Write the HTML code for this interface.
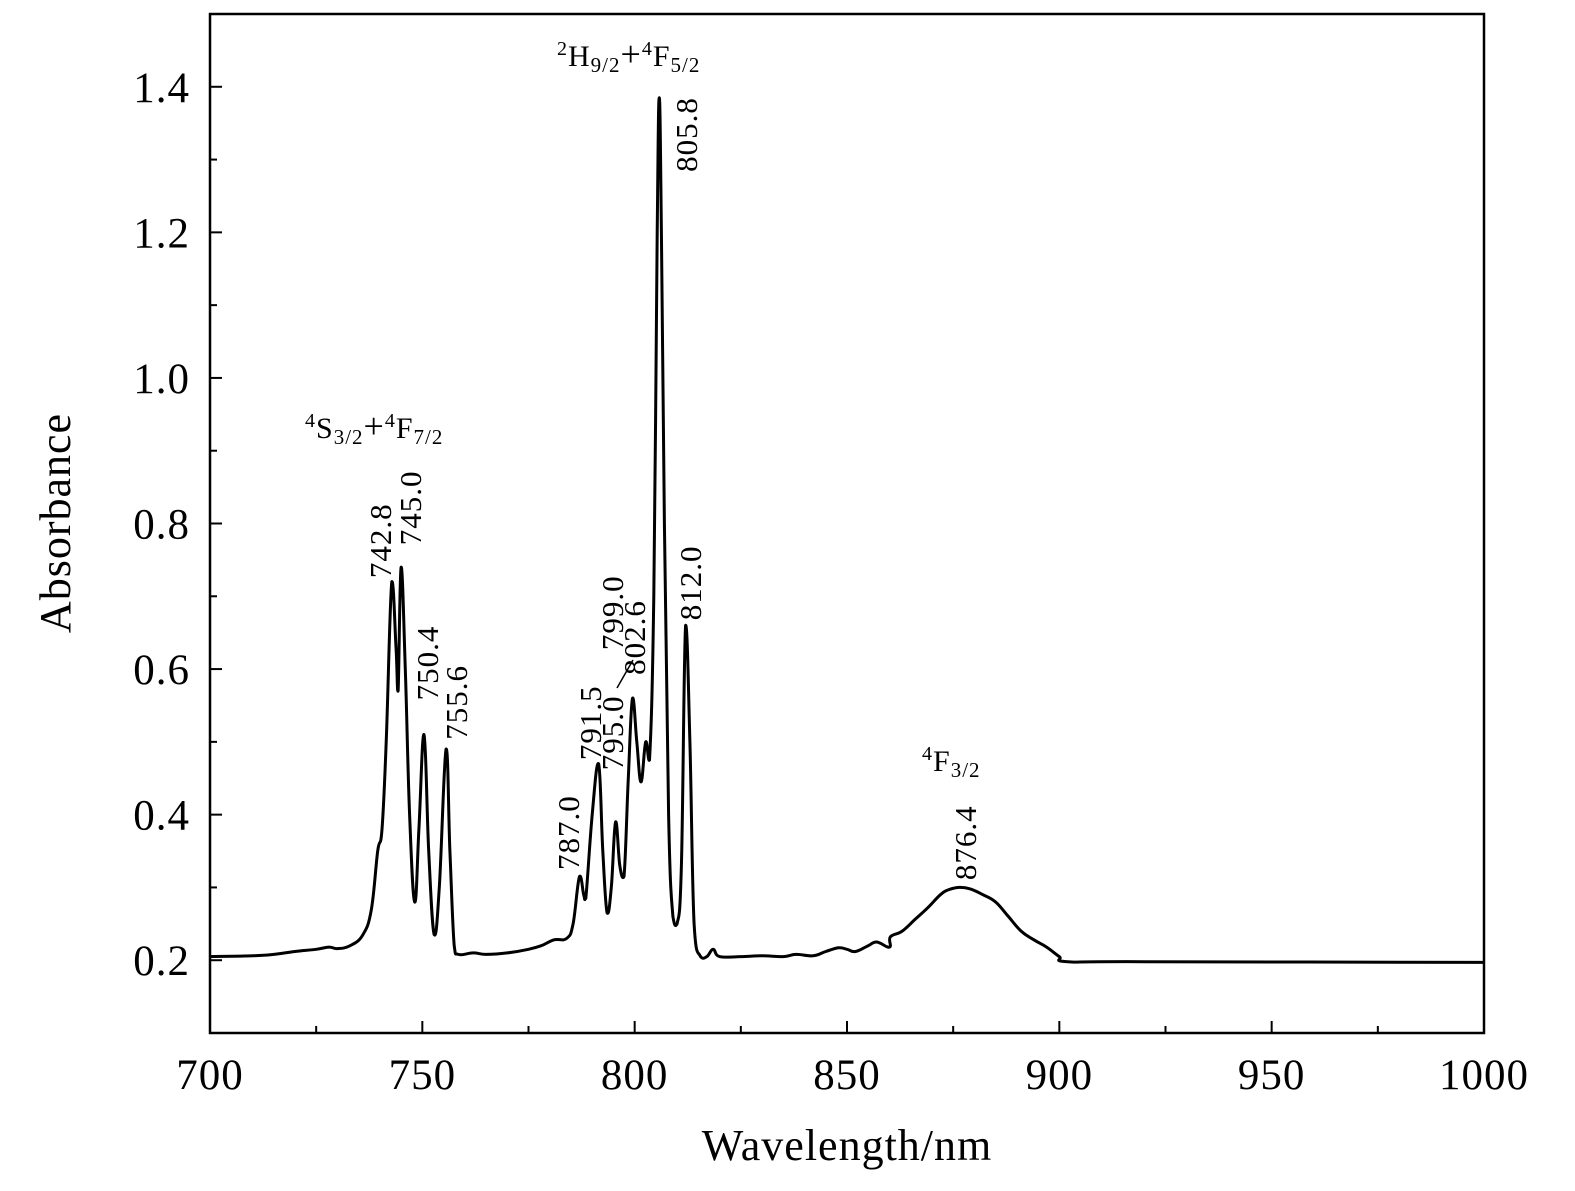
<!DOCTYPE html>
<html><head><meta charset="utf-8"><style>
html,body{margin:0;padding:0;background:#fff}
svg{display:block;font-family:"Liberation Serif",serif}
</style></head><body>
<svg id="chart" width="1575" height="1191" viewBox="0 0 1575 1191" xmlns="http://www.w3.org/2000/svg">
<rect x="0" y="0" width="1575" height="1191" fill="#fff"/>
<g id="ticks"></g>
<path id="spectrum" fill="none" stroke="#000" stroke-width="3" stroke-linejoin="round"/>
<rect x="210" y="14" width="1274" height="1019" fill="none" stroke="#000" stroke-width="2.5"/>
<g id="peaklabels" font-size="31"></g>
<line x1="617" y1="688" x2="633" y2="660" stroke="#000" stroke-width="1.5"/>
<text x="305" y="438" font-size="30" letter-spacing="1">
<tspan font-size="20" dy="-11">4</tspan><tspan dy="11">S</tspan><tspan font-size="21" dy="6">3/2</tspan><tspan dy="-6" font-size="36">+</tspan><tspan font-size="20" dy="-11">4</tspan><tspan dy="11">F</tspan><tspan font-size="21" dy="6">7/2</tspan></text>
<text x="557" y="66" font-size="30" letter-spacing="1">
<tspan font-size="20" dy="-11">2</tspan><tspan dy="11">H</tspan><tspan font-size="21" dy="6">9/2</tspan><tspan dy="-6" font-size="36">+</tspan><tspan font-size="20" dy="-11">4</tspan><tspan dy="11">F</tspan><tspan font-size="21" dy="6">5/2</tspan></text>
<text x="922" y="771" font-size="30" letter-spacing="1">
<tspan font-size="20" dy="-11">4</tspan><tspan dy="11">F</tspan><tspan font-size="21" dy="6">3/2</tspan></text>
<text x="847" y="1160" font-size="44" letter-spacing="1" text-anchor="middle">Wavelength/nm</text>
<text transform="translate(70,523) rotate(-90)" font-size="44" letter-spacing="1" text-anchor="middle">Absorbance</text>
</svg>
<script>
const wavelengths=[700,710,715,720,725,728,730,733,736,738,739.5,740.5,741.5,742.8,743.8,744.3,745.0,746,747,748.2,749.2,750.4,751.5,752.8,754,755.6,756.5,757.5,758.5,762,765,770,775,778,781,784,785.5,787,788,788.5,790,791.5,792.5,793.5,794.5,795.5,796.5,797.5,798.5,799.5,800.5,801.5,802.6,803.5,804.5,805.3,805.8,806.3,807,808,809,810,811,812.0,813,814,815.5,817,818.5,820,825,830,835,838,842,845,848,850,852,855,857,860,860.2,863,866,869,872,874,876.4,879,882,885,888,891,894,897,900,902,920,1000];
const absorbance=[0.205,0.206,0.208,0.212,0.215,0.218,0.216,0.22,0.235,0.27,0.35,0.38,0.5,0.72,0.63,0.57,0.74,0.6,0.4,0.28,0.38,0.51,0.35,0.235,0.3,0.49,0.35,0.22,0.208,0.21,0.208,0.21,0.215,0.22,0.228,0.23,0.25,0.315,0.29,0.285,0.4,0.47,0.35,0.265,0.3,0.39,0.33,0.315,0.45,0.56,0.5,0.445,0.5,0.475,0.7,1.2,1.385,1.2,0.8,0.4,0.26,0.25,0.33,0.66,0.5,0.25,0.205,0.205,0.215,0.205,0.205,0.206,0.205,0.208,0.206,0.212,0.217,0.215,0.212,0.22,0.225,0.218,0.232,0.24,0.256,0.272,0.29,0.297,0.3,0.298,0.29,0.28,0.26,0.24,0.228,0.218,0.205,0.198,0.198,0.197];
const xTickLabels=["700","750","800","850","900","950","1000"];
const yTickLabels=["0.2","0.4","0.6","0.8","1.0","1.2","1.4"];
const peakLabels=["742.8","745.0","750.4","755.6","787.0","791.5","795.0","799.0","802.6","805.8","812.0","876.4"];
const peakLabelX=[742.6,749.7,753.7,760.5,786.9,792.1,797.3,797.3,802.4,814.7,815.6,880.4];
const peakLabelY=[0.725,0.77,0.557,0.503,0.324,0.475,0.461,0.626,0.592,1.283,0.667,0.31];

const X=v=>210+(v-700)*1274/300;
const Y=v=>1033-(v-0.1)*1019/1.4;
const NS="http://www.w3.org/2000/svg";
const pts=wavelengths.map((w,i)=>[X(w),Y(absorbance[i])]);
let d="M"+pts[0][0].toFixed(1)+","+pts[0][1].toFixed(1);
for(let i=0;i<pts.length-1;i++){
  const p0=pts[Math.max(i-1,0)],p1=pts[i],p2=pts[i+1],p3=pts[Math.min(i+2,pts.length-1)];
  const t=0.2;
  let c1y=p1[1]+(p2[1]-p0[1])*t, c2y=p2[1]-(p3[1]-p1[1])*t;
  const lo=Math.min(p1[1],p2[1])-3, hi=Math.max(p1[1],p2[1])+3;
  c1y=Math.max(lo,Math.min(hi,c1y)); c2y=Math.max(lo,Math.min(hi,c2y));
  const c1x=p1[0]+(p2[0]-p0[0])*t, c2x=p2[0]-(p3[0]-p1[0])*t;
  d+="C"+c1x.toFixed(1)+","+c1y.toFixed(1)+" "+c2x.toFixed(1)+","+c2y.toFixed(1)+" "+p2[0].toFixed(1)+","+p2[1].toFixed(1);
}
document.getElementById("spectrum").setAttribute("d",d);

const tg=document.getElementById("ticks");
function line(x1,y1,x2,y2,name){const l=document.createElementNS(NS,"line");l.setAttribute("x1",x1);l.setAttribute("y1",y1);l.setAttribute("x2",x2);l.setAttribute("y2",y2);l.setAttribute("stroke","#000");l.setAttribute("stroke-width","2");


tg.appendChild(l);}
function txt(x,y,s,name,anchor){const t=document.createElementNS(NS,"text");t.setAttribute("x",x);t.setAttribute("y",y);t.setAttribute("font-size","43");t.setAttribute("letter-spacing","1");t.setAttribute("text-anchor",anchor);t.textContent=s;


tg.appendChild(t);}
for(let i=0;i<xTickLabels.length;i++){const v=+xTickLabels[i];const x=X(v);line(x,1033,x,1021,"x-major-tick");txt(x,1089,xTickLabels[i],"x-tick-label","middle");if(v<1000){const xm=X(v+25);line(xm,1033,xm,1026,"x-minor-tick");}}
for(let i=0;i<yTickLabels.length;i++){const v=+yTickLabels[i];const y=Y(v);line(210,y,222,y,"y-major-tick");txt(190,y+15,yTickLabels[i],"y-tick-label","end");const ym=Y(v+0.1);line(210,ym,217,ym,"y-minor-tick");}
line(210,Y(0.1),217,Y(0.1),"y-minor-tick");

const pg=document.getElementById("peaklabels");
for(let i=0;i<peakLabels.length;i++){const t=document.createElementNS(NS,"text");const x=X(peakLabelX[i]),y=Y(peakLabelY[i]);t.setAttribute("transform","translate("+x.toFixed(1)+","+y.toFixed(1)+") rotate(-90)");t.setAttribute("letter-spacing","1");t.textContent=peakLabels[i];


pg.appendChild(t);}
</script>
</body></html>
